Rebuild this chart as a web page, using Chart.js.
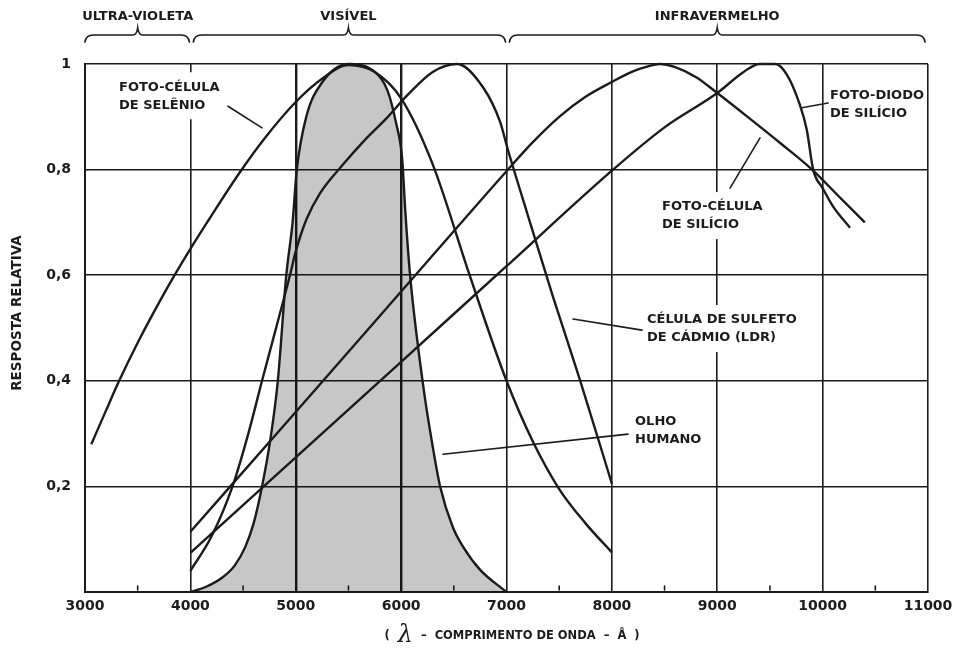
<!DOCTYPE html>
<html>
<head>
<meta charset="utf-8">
<script src="https://cdn.jsdelivr.net/npm/chart.js@4.4.1/dist/chart.umd.min.js"></script>
<style>
  html, body { margin: 0; padding: 0; background: #ffffff; }
  #wrap { width: 959px; height: 650px; position: relative; }
</style>
</head>
<body>
<div id="wrap"><canvas id="chart"></canvas></div>
<script>
// Relative spectral response of light sensors versus wavelength (Å)
const seleniumWl   = [3060, 3200, 3320, 3500, 3700, 3850, 4000, 4200, 4470, 4700, 5000, 5250, 5500, 5750, 6000, 6300, 6650, 7000, 7250, 7500, 7750, 8000];
const seleniumResp = [0.28, 0.344, 0.398, 0.472, 0.547, 0.600, 0.650, 0.713, 0.795, 0.858, 0.928, 0.972, 0.998, 0.985, 0.935, 0.81, 0.60, 0.40, 0.285, 0.195, 0.13, 0.075];

const eyeWl   = [4000, 4150, 4300, 4420, 4520, 4600, 4680, 4760, 4830, 4910, 4970, 5010, 5100, 5250, 5500, 5750, 5870, 5950, 6010, 6040, 6085, 6210, 6300, 6370, 6490, 6590, 6750, 7000];
const eyeResp = [0.0, 0.01, 0.027, 0.05, 0.085, 0.13, 0.2, 0.29, 0.4, 0.6, 0.7, 0.8, 0.9, 0.965, 1.0, 0.985, 0.95, 0.89, 0.82, 0.72, 0.6, 0.39, 0.275, 0.2, 0.123, 0.085, 0.042, 0.0];

const cdsWl   = [4000, 4200, 4400, 4550, 4680, 4820, 4945, 5000, 5100, 5230, 5450, 5650, 5865, 6055, 6300, 6530, 6780, 6940, 7010, 7200, 7440, 7700, 8000];
const cdsResp = [0.04, 0.105, 0.2, 0.3, 0.4, 0.505, 0.6, 0.645, 0.705, 0.755, 0.81, 0.855, 0.898, 0.94, 0.985, 1.0, 0.955, 0.89, 0.84, 0.715, 0.56, 0.4, 0.205];

const siCellWl   = [4000, 5000, 6000, 7000, 7250, 7500, 7750, 8000, 8200, 8350, 8450, 8600, 8800, 9000, 9300, 9600, 9900, 10150, 10400];
const siCellResp = [0.114, 0.341, 0.569, 0.797, 0.852, 0.900, 0.938, 0.966, 0.986, 0.996, 1.0, 0.994, 0.975, 0.945, 0.898, 0.85, 0.80, 0.75, 0.70];

const siDiodeWl   = [4000, 5000, 6000, 7000, 8000, 8500, 9000, 9250, 9400, 9550, 9660, 9780, 9850, 9910, 10000, 10100, 10260];
const siDiodeResp = [0.074, 0.255, 0.436, 0.617, 0.798, 0.88, 0.945, 0.985, 1.0, 1.0, 0.98, 0.925, 0.875, 0.8, 0.765, 0.73, 0.69];

const xTickLabels = ['3000', '4000', '5000', '6000', '7000', '8000', '9000', '10000', '11000'];
const yTickLabels = ['', '0,2', '0,4', '0,6', '0,8', '1'];

const regionNames  = ['ULTRA-VIOLETA', 'VISÍVEL', 'INFRAVERMELHO'];
const regionBounds = [[3000, 4000], [4000, 7000], [7000, 11000]];

const ink = '#1b1b1b';
const FONT = '"DejaVu Sans", "Liberation Sans", sans-serif';

function pts(xs, ys) { return xs.map((x, i) => ({ x, y: ys[i] })); }

function curve(label, xs, ys, extra) {
  return Object.assign({
    label,
    data: pts(xs, ys),
    borderColor: ink,
    borderWidth: 2.4,
    pointRadius: 0,
    fill: false,
    cubicInterpolationMode: 'monotone',
    clip: 4
  }, extra || {});
}

// Callout placement for each curve name (wavelength, response)
const notes = [
  { lines: ['FOTO-CÉLULA', 'DE SELÊNIO'], at: [3323, 0.956], from: [4357, 0.920], to: [4680, 0.879], mask: true },
  { lines: ['FOTO-DIODO', 'DE SILÍCIO'], at: [10070, 0.941], from: [10051, 0.926], to: [9804, 0.917], mask: false },
  { lines: ['FOTO-CÉLULA', 'DE SILÍCIO'], at: [8476, 0.729], from: [9121, 0.765], to: [9406, 0.860], mask: true },
  { lines: ['CÉLULA DE SULFETO', 'DE CÁDMIO (LDR)'], at: [8333, 0.515], from: [8286, 0.496], to: [7631, 0.517], mask: true },
  { lines: ['OLHO', 'HUMANO'], at: [8220, 0.322], from: [8153, 0.299], to: [6397, 0.261], mask: false }
];

const decorations = {
  id: 'decorations',
  afterDraw(chart) {
    const { ctx, chartArea: a } = chart;
    const xs = chart.scales.x, ys = chart.scales.y;
    const px = v => xs.getPixelForValue(v);
    const py = v => ys.getPixelForValue(v);
    ctx.save();
    ctx.strokeStyle = ink;
    ctx.fillStyle = ink;
    ctx.lineCap = 'round';

    // half-step marks along the bottom edge
    ctx.lineWidth = 1.6;
    for (let w = 3500; w < 11000; w += 1000) {
      ctx.beginPath();
      ctx.moveTo(px(w), a.bottom - 6);
      ctx.lineTo(px(w), a.bottom - 2);
      ctx.stroke();
    }

    // spectral region braces and names
    ctx.lineWidth = 1.7;
    ctx.font = 'bold 13px ' + FONT;
    ctx.textAlign = 'center';
    ctx.textBaseline = 'middle';
    const yTip = 42, yLine = 35, yPeak = 28;
    regionBounds.forEach((b, i) => {
      const x1 = px(b[0]) + (i === 0 ? 0 : 3);
      const x2 = px(b[1]) - (i === regionBounds.length - 1 ? 3 : 1);
      const xm = px((b[0] + b[1]) / 2);
      ctx.beginPath();
      ctx.moveTo(x1, yTip);
      ctx.quadraticCurveTo(x1 + 1, yLine, x1 + 8, yLine);
      ctx.lineTo(xm - 5, yLine);
      ctx.quadraticCurveTo(xm - 1, yLine, xm, yPeak);
      ctx.quadraticCurveTo(xm + 1, yLine, xm + 5, yLine);
      ctx.lineTo(x2 - 8, yLine);
      ctx.quadraticCurveTo(x2 - 1, yLine, x2, yTip);
      ctx.stroke();
      ctx.fillText(regionNames[i], xm, 17);
    });

    // curve callouts
    ctx.textAlign = 'left';
    notes.forEach(n => {
      const lx = px(n.at[0]), ly = py(n.at[1]);
      const w = Math.max(...n.lines.map(t => ctx.measureText(t).width));
      if (n.mask) {
        ctx.fillStyle = '#ffffff';
        ctx.fillRect(lx - 5, ly - 15, w + 10, 18 + 29);
        ctx.fillStyle = ink;
      }
      n.lines.forEach((t, k) => ctx.fillText(t, lx, ly + k * 18));
      ctx.lineWidth = 1.6;
      ctx.beginPath();
      ctx.moveTo(px(n.from[0]), py(n.from[1]));
      ctx.lineTo(px(n.to[0]), py(n.to[1]));
      ctx.stroke();
    });

    // vertical axis title
    ctx.save();
    ctx.translate(17, (a.top + a.bottom) / 2 - 15);
    ctx.rotate(-Math.PI / 2);
    ctx.textAlign = 'center';
    ctx.font = 'bold 13.5px ' + FONT;
    ctx.fillText('RESPOSTA RELATIVA', 0, 0);
    ctx.restore();

    // horizontal axis title: ( λ – COMPRIMENTO DE ONDA – Å )
    const small = 'bold 11.5px ' + FONT;
    const greek = 'italic 24px "DejaVu Serif", "Liberation Serif", serif';
    const parts = [
      [small, '(  '], [greek, 'λ'], [small, '  –  COMPRIMENTO DE ONDA  –  Å  )']
    ];
    let total = 0;
    parts.forEach(p => { ctx.font = p[0]; total += ctx.measureText(p[1]).width; });
    let cx = 512 - total / 2;
    const ty = 636;
    parts.forEach(p => {
      ctx.font = p[0];
      ctx.fillText(p[1], cx, ty);
      cx += ctx.measureText(p[1]).width;
    });
    ctx.restore();
  }
};

Chart.defaults.font.family = FONT;
Chart.defaults.color = ink;

new Chart(document.getElementById('chart'), {
  type: 'line',
  data: {
    datasets: [
      curve('Foto-célula de selênio', seleniumWl, seleniumResp),
      curve('Célula de sulfeto de cádmio (LDR)', cdsWl, cdsResp),
      curve('Foto-célula de silício', siCellWl, siCellResp),
      curve('Foto-diodo de silício', siDiodeWl, siDiodeResp),
      curve('Olho humano', eyeWl, eyeResp, { fill: 'origin', backgroundColor: 'rgba(0,0,0,0.22)' })
    ]
  },
  options: {
    responsive: true,
    maintainAspectRatio: false,
    animation: false,
    events: [],
    layout: { padding: { top: 64, right: 31, bottom: 0, left: 0 } },
    plugins: { legend: { display: false }, tooltip: { enabled: false } },
    scales: {
      x: {
        type: 'linear',
        min: 3000,
        max: 11000,
        ticks: {
          stepSize: 1000,
          padding: 6,
          color: ink,
          font: { size: 14, weight: 'bold' },
          maxRotation: 0,
          callback: (v, i) => xTickLabels[i]
        },
        grid: {
          color: ink,
          drawTicks: false,
          lineWidth: c => (c.tick && (c.tick.value === 5000 || c.tick.value === 6000)) ? 2.4 : 1.6
        },
        border: { color: ink, width: 2 },
        afterFit: s => { s.height = 58; }
      },
      y: {
        min: 0,
        max: 1,
        ticks: {
          stepSize: 0.2,
          padding: 14,
          color: ink,
          font: { size: 14, weight: 'bold' },
          callback: (v, i) => yTickLabels[i]
        },
        grid: { color: ink, drawTicks: false, lineWidth: 1.6 },
        border: { color: ink, width: 2 },
        afterFit: s => { s.width = 85; }
      }
    }
  },
  plugins: [decorations]
});
</script>
</body>
</html>
